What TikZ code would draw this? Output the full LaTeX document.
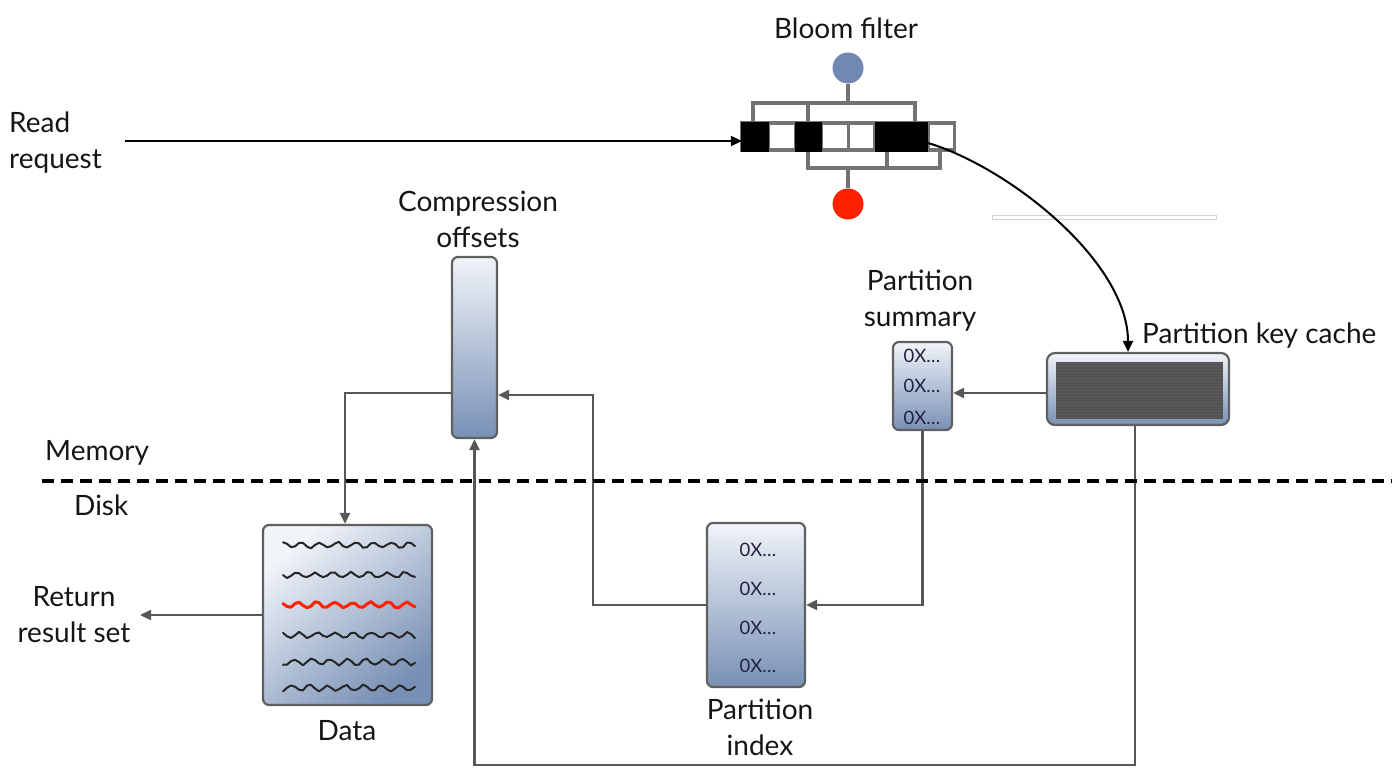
\documentclass[tikz,border=0pt]{standalone}
\usepackage{fontspec}
\setmainfont{Lato}
\usetikzlibrary{arrows.meta,calc}
\definecolor{conn}{HTML}{575757}
\definecolor{boxline}{HTML}{606060}
\definecolor{boxtop}{HTML}{F1F4F9}
\definecolor{boxbot}{HTML}{7890B5}
\definecolor{txt}{HTML}{151515}
\definecolor{hexc}{HTML}{222240}
\definecolor{bfblue}{HTML}{6F89B0}
\definecolor{bfred}{HTML}{FF2200}
\definecolor{cellline}{HTML}{737373}
\definecolor{kcdark}{HTML}{535353}
\definecolor{kcstripe}{HTML}{5B5B5B}
\tikzset{
  lbl/.style={font=\fontsize{28}{36}\selectfont, text=txt, inner sep=0pt, align=center},
  hex/.style={font=\fontsize{18.5}{20}\selectfont, text=hexc, inner sep=0pt},
  box/.style={draw=boxline, line width=2.2pt, rounded corners=6pt, top color=boxtop, bottom color=boxbot, inner sep=0pt},
  conn/.style={draw=conn, line width=2.3pt, -{Triangle[length=11pt,width=10pt]}},
  brk/.style={draw=cellline, line width=3.4pt},
  cell/.style={draw=cellline, line width=3.2pt},
  wave/.style={line width=2pt, line join=round, line cap=round},
}
\begin{document}
\begin{tikzpicture}[x=1pt,y=-1pt]
\useasboundingbox (0,0) rectangle (1394,768);
\pgfmathsetseed{11}

% ---------------- Bloom filter ----------------
\node[lbl] (bftxt) at (846,28) {Bloom filter};
\node[circle, fill=bfblue, minimum size=31pt, inner sep=0pt] (blue) at (848,68) {};
\node[circle, fill=bfred, minimum size=31pt, inner sep=0pt] (red) at (848,204) {};
\node[minimum width=212.8pt, minimum height=27pt, inner sep=0pt] (bf) at (848.4,136.5) {};
% brackets
\draw[brk] (753,123) -- (753,103) -- (915,103) -- (915,123);
\draw[brk] (808,103) -- (808,123);
\draw[brk] (blue.south) -- (848,103);
\draw[brk] (808,150) -- (808,168) -- (940,168) -- (940,150);
\draw[brk] (887,150) -- (887,168);
\draw[brk] (848,168) -- (red.north);
% cells
\foreach \i/\f in {0/black,1/white,2/black,3/white,4/white,5/black,6/black,7/white}{
  \draw[cell, fill=\f] ({742+\i*26.6},123) rectangle ++(26.6,27);
}
\fill[black] (740.5,121.5) rectangle ++(28.1,30);
\fill[black] (795.2,121.5) rectangle ++(26.6,30);
\fill[black] (875,121.5) rectangle ++(53.2,30);
\coordinate (c7) at (928.2,143);

% faint double line
\draw[gray!35, line width=1pt] (992,215) rectangle (1216,219.5);

% ---------------- Read request ----------------
\node[lbl, anchor=west, align=left] (rr) at (9,143) {Read\\request};
\coordinate (rq) at (125,141);
\draw[conn, draw=black, line width=2.2pt] (rq) -- (rq -| bf.west);

% ---------------- Partition key cache ----------------
\node[box, minimum width=182pt, minimum height=72pt, rounded corners=8pt] (kc) at (1138,389) {};
\fill[kcdark] (1056,362) rectangle (1223,419);
\begin{scope}
\clip (1056,362) rectangle (1223,419);
\foreach \k in {0,...,19}{
  \draw[kcstripe, line width=0.8pt] (1056,{363.5+\k*3}) -- (1223,{363.5+\k*3});
}
\end{scope}
\node[lbl, anchor=west] (kctxt) at (1142,336) {Partition key cache};
\draw[conn, draw=black, line width=2pt] (c7) .. controls (1010,168) and (1128,262) .. ($(kc.north)+(-10,0)$);

% ---------------- Partition summary ----------------
\node[box, minimum width=59pt, minimum height=88pt] (ps) at (922.5,386) {};
\node[hex] at (922,356) {0X\ldots};
\node[hex] at (922,386) {0X\ldots};
\node[hex] at (922,418) {0X\ldots};
\node[lbl] (pstxt) at (920,301) {Partition\\summary};
\draw[conn] (kc.west |- 0,393) -- (ps.east |- 0,393);

% ---------------- Partition index ----------------
\node[box, minimum width=98pt, minimum height=164pt] (pi) at (756,605) {};
\node[hex] at (758,550) {0X\ldots};
\node[hex] at (758,589) {0X\ldots};
\node[hex] at (758,628) {0X\ldots};
\node[hex] at (758,666) {0X\ldots};
\node[lbl] (pitxt) at (760,727) {Partition\\index};
\draw[conn] (ps.south) |- (pi.east);

% ---------------- Compression offsets ----------------
\node[box, minimum width=45pt, minimum height=181pt] (co) at (474.5,347.5) {};
\node[lbl] (cotxt) at (478,219) {Compression\\offsets};
\coordinate (t1) at (593,395);
\draw[conn] (pi.west) -| (t1) -- (t1 -| co.east);

% ---------------- Data ----------------
\node[box, minimum width=169pt, minimum height=180pt, shading angle=40] (data) at (347.5,615) {};
\foreach \yy/\ph in {545/0,575/90,635/40,662/150,688/200}{
  \draw[wave, black!85] plot[variable=\t, samples at={283,287,...,415}] (\t,{\yy+2.8*sin(\t*20+\ph)+0.8*rand});
}
\draw[wave, bfred, line width=3pt] plot[variable=\t, samples at={283,287,...,415}] (\t,{605+2.8*sin(\t*20+60)+0.8*rand});
\node[lbl] (datatxt) at (347,731) {Data};
\coordinate (t2) at (345,393);
\draw[conn] (co.west |- t2) -- (t2) -- (t2 |- data.north);

% ---------------- Return ----------------
\node[lbl] (ret) at (74,615) {Return\\result set};
\coordinate (rt) at (140,615);
\draw[conn] (data.west) -- (rt);

% ---------------- bottom loop ----------------
\coordinate (b) at (1135,765);
\draw[conn] (kc.south -| b) -- (b) -| (co.south);

% ---------------- Memory / Disk ----------------
\node[lbl, anchor=west] (mem) at (45,453) {Memory};
\node[lbl, anchor=west] (disk) at (74,505) {Disk};
\draw[black, line width=4pt, dash pattern=on 12pt off 7pt] (42,481) -- (1392,481);
\end{tikzpicture}
\end{document}
